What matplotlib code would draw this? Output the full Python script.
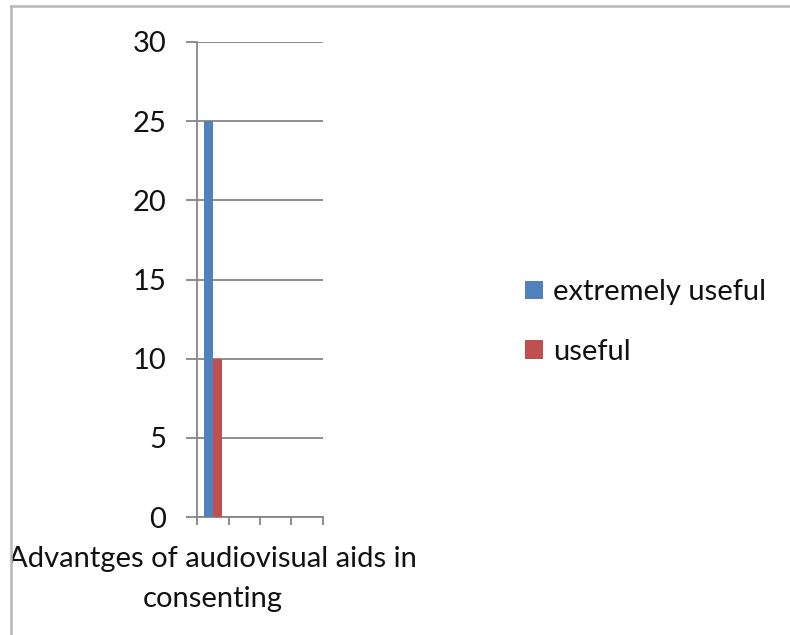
import matplotlib
matplotlib.use("Agg")
import matplotlib.pyplot as plt
from matplotlib.patches import Rectangle, Patch
from matplotlib.lines import Line2D
import numpy as np

# Data
categories = ["Advantges of audiovisual aids in\nconsenting", "", "", ""]
series_names = ["extremely useful", "useful"]
extremely_useful = [25, None, None, None]
useful = [10, None, None, None]
y_ticks = [0, 5, 10, 15, 20, 25, 30]

colors = ["#4F81BD", "#C0504D"]
grid_color = "#868686"
font = ["Lato", "DejaVu Sans"]
fs = 21

plt.rcParams["font.family"] = font

fig = plt.figure(figsize=(7.9, 6.35), dpi=100)
fig.patch.set_facecolor("white")
ax = fig.add_axes([197 / 790, 1 - 517 / 635, 126 / 790, 475 / 635])

n = len(categories)
x = np.arange(n) + 0.5
bar_w = 1 / 3.5
for i, (vals, c) in enumerate(zip([extremely_useful, useful], colors)):
    xs = [xi for xi, v in zip(x, vals) if v is not None]
    vs = [v for v in vals if v is not None]
    ax.bar(np.array(xs) + (i - 0.5) * bar_w, vs, width=bar_w, color=c,
           zorder=3, linewidth=0)

ax.set_xlim(0, n)
ax.set_ylim(0, 30)
ax.set_yticks(y_ticks)
ax.set_yticklabels([str(t) for t in y_ticks], fontsize=fs, color="#111111")
ax.yaxis.grid(True, color=grid_color, linewidth=1.3, zorder=0)
ax.tick_params(axis="y", length=8, width=1.3, color=grid_color, pad=14)

# category boundaries carry the tick marks; labels sit at category centres
ax.set_xticks(np.arange(n + 1))
ax.set_xticklabels([])
ax.tick_params(axis="x", which="major", length=6, width=1.3, color=grid_color)
ax.set_xticks(x, minor=True)
ax.set_xticklabels(categories, minor=True, fontsize=fs, color="#111111",
                   linespacing=1.65)
ax.tick_params(axis="x", which="minor", length=0, pad=21)

for s in ["top", "right"]:
    ax.spines[s].set_visible(False)
for s in ["left", "bottom"]:
    ax.spines[s].set_color(grid_color)
    ax.spines[s].set_linewidth(1.3)
ax.set_facecolor("none")

handles = [Patch(facecolor=c, edgecolor="none") for c in colors]
fig.legend(handles, series_names, loc="center left",
           bbox_to_anchor=(525 / 790, 1 - 322 / 635), frameon=False,
           fontsize=fs, handlelength=0.6, handleheight=0.6,
           handletextpad=0.35, labelspacing=1.15, borderpad=0,
           borderaxespad=0, labelcolor="#111111")

# chart area edge: white margin outside the frame, then the frame lines
fig.patches.append(Rectangle((0, 0), 11 / 790, 1, transform=fig.transFigure,
                             facecolor="white", edgecolor="none", zorder=5))
fig.lines.append(Line2D([11 / 790, 11 / 790], [0, 1 - 5.5 / 635],
                        transform=fig.transFigure, color="#b8b8b8",
                        linewidth=1.8, zorder=6))
fig.lines.append(Line2D([11 / 790, 1], [1 - 5.5 / 635, 1 - 5.5 / 635],
                        transform=fig.transFigure, color="#b8b8b8",
                        linewidth=1.8, zorder=6))

fig.savefig("out.png", dpi=100, facecolor="white")
